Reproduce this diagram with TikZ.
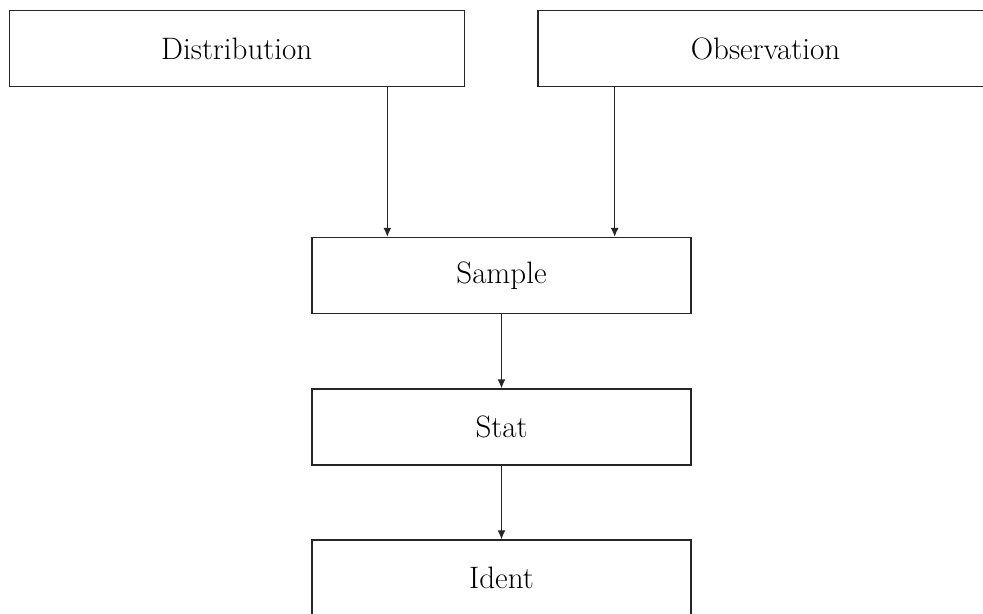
\documentclass[tikz,border=0pt]{standalone}
\usetikzlibrary{arrows.meta}
\begin{document}
\begin{tikzpicture}[x=0.5pt,y=-0.5pt,
  box/.style={draw=black!85,line width=0.65pt,fill=white,inner sep=0pt,
    minimum height=38pt,font=\fontsize{15.5}{18}\selectfont},
  arr/.style={draw=black!85,line width=0.65pt,-{Latex[length=4.5pt,width=4pt]}}]
\useasboundingbox (0,0) rectangle (983,614);
\node[box,minimum width=227.5pt] (dist) at (236.7,48.8) {Distribution};
\node[box,minimum width=227.5pt] (obs)  at (765.5,48.8) {Observation};
\node[box,minimum width=189.5pt] (samp) at (501.5,275.5) {Sample};
\node[box,minimum width=189.5pt] (stat) at (501.5,427) {Stat};
\node[box,minimum width=189.5pt] (ident) at (501.5,578) {Ident};
\draw[arr] ([xshift=38pt]samp.north west |- dist.south) -- ([xshift=38pt]samp.north west);
\draw[arr] ([xshift=-38.5pt]samp.north east |- obs.south) -- ([xshift=-38.5pt]samp.north east);
\draw[arr] (samp) -- (stat);
\draw[arr] (stat) -- (ident);
\end{tikzpicture}
\end{document}
